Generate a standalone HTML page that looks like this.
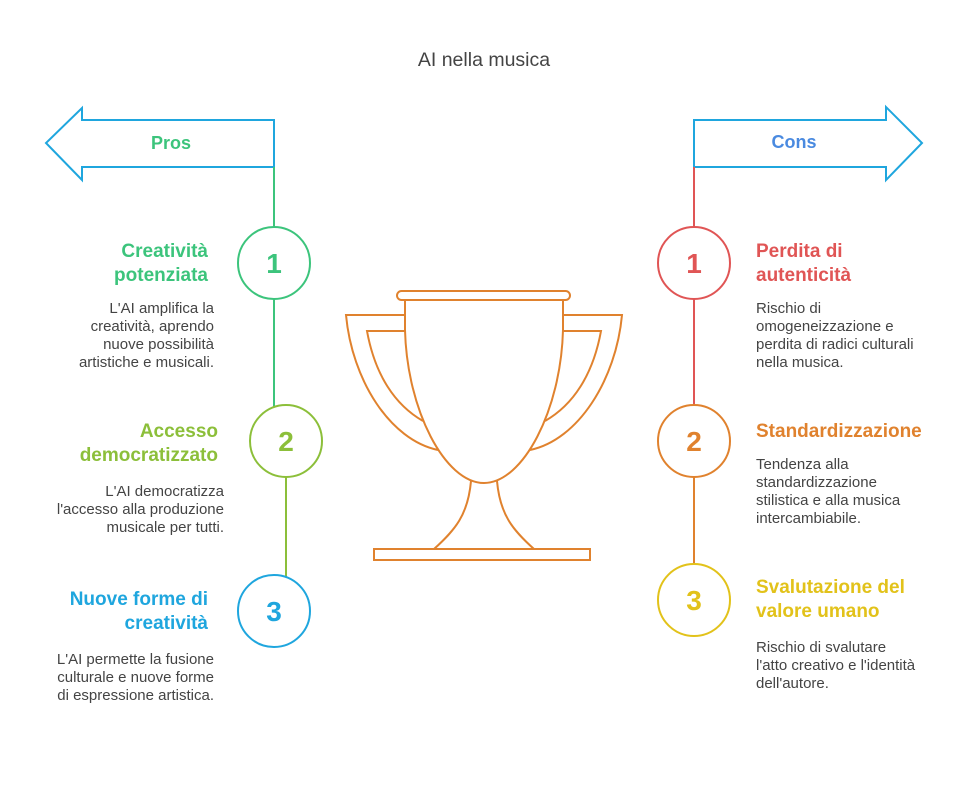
<!DOCTYPE html>
<html><head><meta charset="utf-8"><style>
html,body{margin:0;padding:0;background:#fff}
svg{display:block}
text{font-family:"Liberation Sans",sans-serif}
.h{font-size:19px;font-weight:bold}
.b{font-size:15px;fill:#444}
.n{font-size:28px;font-weight:bold}
</style></head><body>
<svg width="968" height="804" viewBox="0 0 968 804" xmlns="http://www.w3.org/2000/svg">
<text x="484" y="66" text-anchor="middle" style="font-size:19.5px" fill="#444">AI nella musica</text>
<path d="M274,120 H82 V108 L46,143 L82,180 V167 H274 Z" fill="none" stroke="#1fa6de" stroke-width="2"/>
<text x="171" y="149" text-anchor="middle" class="h" style="font-size:18px" fill="#3cc47c">Pros</text>
<path d="M694,120 H886 V107 L922,143 L886,180 V167 H694 Z" fill="none" stroke="#1fa6de" stroke-width="2"/>
<text x="794" y="148" text-anchor="middle" class="h" style="font-size:18px" fill="#4a8ae0">Cons</text>
<line x1="274" y1="167" x2="274" y2="227" stroke="#3cc47c" stroke-width="2"/>
<line x1="274" y1="299" x2="274" y2="410" stroke="#3cc47c" stroke-width="2"/>
<line x1="286" y1="477" x2="286" y2="577" stroke="#8cbf3a" stroke-width="2"/>
<circle cx="274" cy="263" r="36" fill="#fff" stroke="#3cc47c" stroke-width="2"/>
<circle cx="286" cy="441" r="36" fill="#fff" stroke="#8cbf3a" stroke-width="2"/>
<circle cx="274" cy="611" r="36" fill="#fff" stroke="#1fa6de" stroke-width="2"/>
<text x="274" y="273" text-anchor="middle" class="n" fill="#3cc47c">1</text>
<text x="286" y="451" text-anchor="middle" class="n" fill="#8cbf3a">2</text>
<text x="274" y="621" text-anchor="middle" class="n" fill="#1fa6de">3</text>
<line x1="694" y1="167" x2="694" y2="227" stroke="#e05555" stroke-width="2"/>
<line x1="694" y1="299" x2="694" y2="405" stroke="#e05555" stroke-width="2"/>
<line x1="694" y1="477" x2="694" y2="564" stroke="#e0822e" stroke-width="2"/>
<circle cx="694" cy="263" r="36" fill="#fff" stroke="#e05555" stroke-width="2"/>
<circle cx="694" cy="441" r="36" fill="#fff" stroke="#e0822e" stroke-width="2"/>
<circle cx="694" cy="600" r="36" fill="#fff" stroke="#e2c21a" stroke-width="2"/>
<text x="694" y="273" text-anchor="middle" class="n" fill="#e05555">1</text>
<text x="694" y="451" text-anchor="middle" class="n" fill="#e0822e">2</text>
<text x="694" y="610" text-anchor="middle" class="n" fill="#e2c21a">3</text>
<g text-anchor="end">
<text x="208" y="257" class="h" fill="#3cc47c">Creatività</text>
<text x="208" y="281" class="h" fill="#3cc47c">potenziata</text>
<text x="214" y="313" class="b">L'AI amplifica la</text>
<text x="214" y="331" class="b">creatività, aprendo</text>
<text x="214" y="349" class="b">nuove possibilità</text>
<text x="214" y="367" class="b">artistiche e musicali.</text>
<text x="218" y="437" class="h" fill="#8cbf3a">Accesso</text>
<text x="218" y="461" class="h" fill="#8cbf3a">democratizzato</text>
<text x="224" y="496" class="b">L'AI democratizza</text>
<text x="224" y="514" class="b">l'accesso alla produzione</text>
<text x="224" y="532" class="b">musicale per tutti.</text>
<text x="208" y="605" class="h" fill="#1fa6de">Nuove forme di</text>
<text x="208" y="629" class="h" fill="#1fa6de">creatività</text>
<text x="214" y="664" class="b">L'AI permette la fusione</text>
<text x="214" y="682" class="b">culturale e nuove forme</text>
<text x="214" y="700" class="b">di espressione artistica.</text>
</g>
<text x="756" y="257" class="h" fill="#e05555">Perdita di</text>
<text x="756" y="281" class="h" fill="#e05555">autenticità</text>
<text x="756" y="313" class="b">Rischio di</text>
<text x="756" y="331" class="b">omogeneizzazione e</text>
<text x="756" y="349" class="b">perdita di radici culturali</text>
<text x="756" y="367" class="b">nella musica.</text>
<text x="756" y="437" class="h" fill="#e0822e">Standardizzazione</text>
<text x="756" y="469" class="b">Tendenza alla</text>
<text x="756" y="487" class="b">standardizzazione</text>
<text x="756" y="505" class="b">stilistica e alla musica</text>
<text x="756" y="523" class="b">intercambiabile.</text>
<text x="756" y="593" class="h" fill="#e2c21a">Svalutazione del</text>
<text x="756" y="617" class="h" fill="#e2c21a">valore umano</text>
<text x="756" y="652" class="b">Rischio di svalutare</text>
<text x="756" y="670" class="b">l'atto creativo e l'identità</text>
<text x="756" y="688" class="b">dell'autore.</text>
<g fill="none" stroke="#e0822e" stroke-width="2">
<rect x="397" y="291" width="173" height="9" rx="4.5"/>
<path d="M405,300 V330 C407,410 445,483 484,483 C523,483 561,410 563,330 V300"/>
<path d="M405,315 H346 C352,380 390,440 438,450"/>
<path d="M405,331 H367 C375,375 395,405 423,421"/>
<path d="M563,315 H622 C616,380 578,440 530,450"/>
<path d="M563,331 H601 C593,375 573,405 545,421"/>
<path d="M471,481 C468,515 455,530 434,549"/>
<path d="M497,481 C500,515 513,530 534,549"/>
<rect x="374" y="549" width="216" height="11"/>
</g>
</svg>
</body></html>
